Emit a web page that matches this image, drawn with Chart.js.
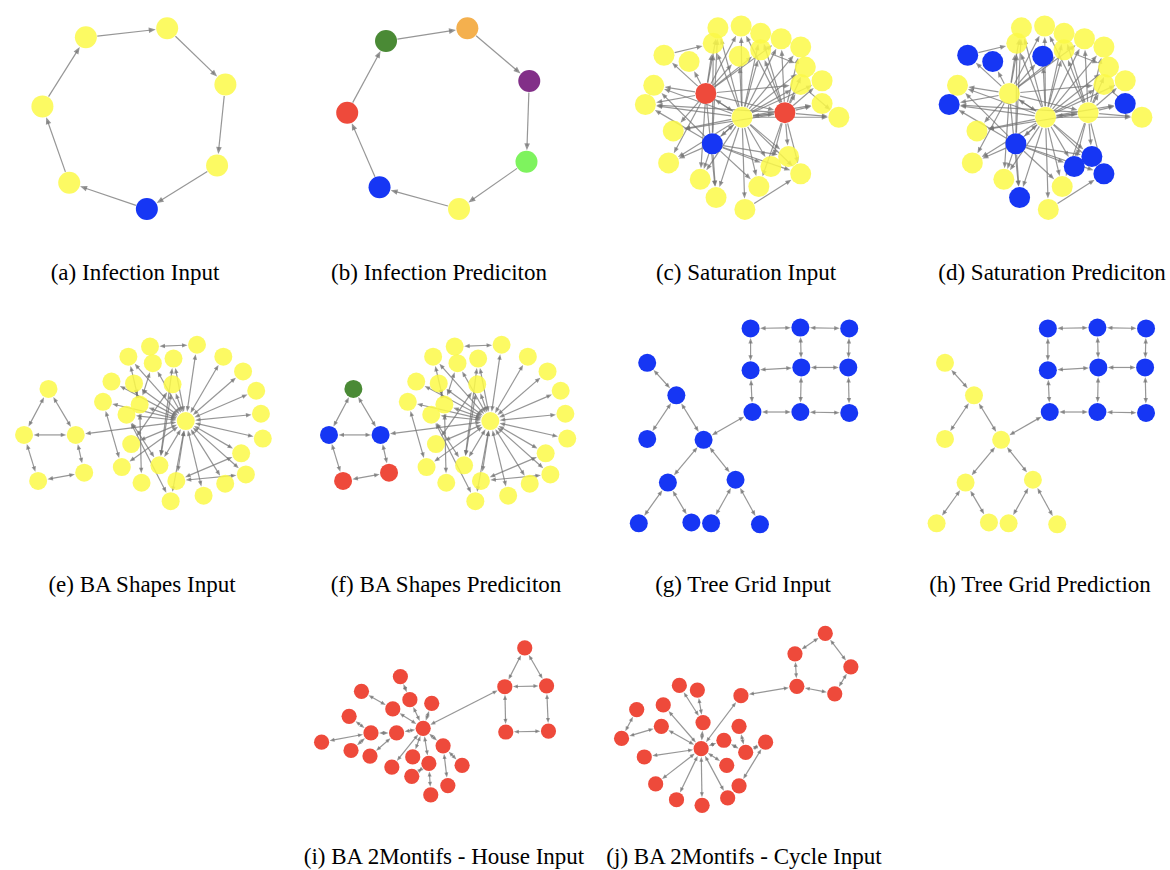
<!DOCTYPE html>
<html>
<head>
<meta charset="utf-8">
<script src="https://cdn.jsdelivr.net/npm/chart.js@4.4.1/dist/chart.umd.min.js"></script>
<style>
  html, body { margin: 0; padding: 0; background: #ffffff; }
  #fig { position: relative; width: 1170px; height: 870px; overflow: hidden; }
  #fig canvas { position: absolute; }
  .cap {
    position: absolute; white-space: nowrap; color: #000;
    font-family: 'Liberation Serif', 'Times New Roman', serif;
    font-size: 23px; line-height: 23px; transform: translateX(-50%);
  }
</style>
</head>
<body>
<div id="fig"></div>
<script>
// ---------- graph data (layout units) ----------

// Infection: directed 7-cycle
const infInX = [81, 169, 232, 223, 147, 63, 34];
const infInY = [29, 19, 81, 170, 218, 189, 105];
const infInClass = ['yellow', 'yellow', 'yellow', 'yellow', 'blue', 'yellow', 'yellow'];
const infPredX = [92, 180, 247, 244, 171, 85, 50];
const infPredY = [33, 19, 77, 166, 218, 194, 112];
const infPredClass = ['green', 'orange', 'purple', 'lime', 'yellow', 'blue', 'red'];
const infEdges = [[0, 1], [1, 2], [2, 3], [3, 4], [4, 5], [5, 6], [6, 0]];

// Saturation: directed graph around a hub (node 18)
const satX = [137, 162, 183, 205, 226, 132, 183, 160, 79, 106, 231, 249, 226, 68, 124,
              59, 249, 209, 163, 267, 89, 131, 213, 84, 194, 226, 118, 181, 135, 166];
const satY = [19, 17, 25, 31, 40, 36, 43, 50, 49, 56, 62, 77, 81, 82, 91,
              103, 102, 112, 117, 117, 132, 146, 160, 167, 171, 179, 185, 193, 205, 218];
const satInClass = satX.map((_, i) => (i === 14 || i === 17) ? 'red' : (i === 21 ? 'blue' : 'yellow'));
const satPredBlue = [7, 8, 9, 15, 16, 21, 22, 24, 25, 28];
const satPredClass = satX.map((_, i) => satPredBlue.includes(i) ? 'blue' : 'yellow');
const satEdges = [
  [18, 0], [18, 1], [18, 2], [18, 3], [18, 4], [18, 5], [18, 6], [18, 7], [18, 10], [18, 11],
  [18, 12], [18, 13], [18, 15], [18, 16], [18, 19], [18, 20], [18, 22], [18, 23], [18, 24],
  [18, 25], [18, 26], [18, 27], [18, 28], [18, 29], [18, 14], [14, 18], [18, 17], [17, 18],
  [18, 21], [21, 18],
  [14, 8], [14, 9], [14, 13], [14, 15], [14, 0], [14, 5], [14, 6], [14, 7], [14, 1], [14, 23],
  [14, 26], [14, 28], [14, 20], [14, 12], [14, 17], [14, 3],
  [17, 16], [17, 19], [17, 11], [17, 12], [17, 10], [17, 4], [17, 3], [17, 2], [17, 27],
  [17, 24], [17, 22], [17, 25], [17, 1], [17, 6], [17, 15], [17, 20],
  [21, 23], [21, 26], [21, 28], [21, 27], [21, 25], [21, 22], [21, 13], [21, 0], [21, 5],
  [21, 15], [21, 24],
  [6, 10], [8, 5], [12, 19], [29, 25]
];

// BA Shapes: house motif (0-4) attached to a BA graph with hub 5
const baX = [42, 16, 71, 31, 80, 188, 150, 200, 127, 175, 153, 228, 249, 109, 133, 174,
             263, 100, 139, 125, 268, 270, 130, 247, 120, 160, 252, 141, 178, 230, 207, 172];
const baY = [76, 126, 126, 176, 167, 111, 30, 28, 41, 43, 48, 41, 57, 68, 70, 71,
             78, 90, 93, 104, 103, 130, 136, 146, 161, 159, 169, 178, 176, 179, 192, 198];
const baInClass = baX.map(() => 'yellow');
const baPredClass = baX.map((_, i) => ['green', 'blue', 'blue', 'red', 'red'][i] || 'yellow');
const baEdges = [
  [0, 1], [0, 2], [1, 2], [1, 3], [2, 4], [3, 4], [5, 2],
  [5, 7], [5, 11], [5, 12], [5, 16], [5, 20], [5, 21], [5, 23], [5, 26], [5, 29], [5, 30],
  [5, 28], [5, 31], [5, 25], [5, 15], [5, 9], [5, 8], [5, 10], [5, 13], [5, 17], [5, 19],
  [5, 18], [5, 22], [5, 24], [5, 14],
  [6, 7], [17, 24], [18, 27], [19, 31], [19, 25], [22, 15], [25, 9], [25, 15], [28, 23],
  [28, 26], [14, 18], [10, 18], [8, 18]
];

// Tree Grid: 3x3 grid (0-8) joined to a binary tree (9-18)
const tgX = [156, 209, 261, 156, 210, 260, 158, 209, 261, 46, 77, 46, 106, 68, 140, 37, 93, 114, 166];
const tgY = [21, 20, 21, 66, 63, 63, 111, 111, 112, 58, 93, 140, 141, 187, 184, 231, 230, 231, 232];
const tgInClass = tgX.map(() => 'blue');
const tgPredClass = tgX.map((_, i) => i < 9 ? 'blue' : 'yellow');
const tgEdges = [
  [0, 1], [1, 2], [0, 3], [1, 4], [2, 5], [3, 4], [4, 5], [3, 6], [4, 7], [5, 8], [6, 7], [7, 8],
  [9, 10], [10, 11], [10, 12], [12, 13], [12, 14], [13, 15], [13, 16], [14, 17], [14, 18], [12, 6]
];

// BA 2Motifs - House
const houseX = [234, 213, 257, 214, 259, 127, 103, 62, 113, 136, 95, 49, 72, 99, 20, 51, 71,
                148, 116, 94, 133, 168, 115, 153, 135];
const houseY = [22, 64, 63, 113, 112, 109, 53, 69, 78, 82, 88, 96, 114, 114, 124, 133, 139,
                128, 140, 151, 147, 149, 161, 171, 181];
const houseClass = houseX.map(() => 'red');
const houseEdges = [
  [0, 1], [0, 2], [1, 2], [1, 3], [2, 4], [3, 4], [5, 1],
  [6, 8], [8, 5], [9, 5], [7, 10], [10, 5], [11, 12], [12, 13], [13, 5], [14, 12], [15, 12],
  [16, 13], [17, 5], [18, 5], [19, 5], [20, 5], [21, 17], [23, 17], [22, 20], [24, 20]
];

// BA 2Motifs - Cycle
const cycX = [235, 203, 262, 205, 245, 104, 146, 81, 100, 36, 64, 106, 62, 144, 20, 128, 172,
              151, 44, 131, 56, 144, 78, 132, 105];
const cycY = [17, 39, 53, 74, 82, 141, 84, 73, 78, 99, 94, 113, 117, 117, 130, 132, 134,
              145, 150, 159, 179, 181, 196, 194, 202];
const cycClass = cycX.map(() => 'red');
const cycEdges = [
  [0, 1], [0, 2], [2, 4], [4, 3], [3, 1], [6, 3],
  [5, 6], [5, 11], [11, 7], [11, 8], [5, 10], [5, 12], [12, 14], [9, 14], [5, 18], [5, 20],
  [5, 22], [5, 24], [5, 23], [5, 19], [5, 15], [15, 17], [13, 17], [17, 16], [16, 21]
];

// ---------- styling ----------
const PALETTE = {
  yellow: 'rgba(252, 249, 72, 0.85)',
  blue: '#1636f4',
  red: '#ee4a3b',
  green: '#4a8a35',
  orange: '#f4b04e',
  purple: '#822f88',
  lime: '#7ef35e'
};
const EDGE_COLOR = 'rgba(115, 115, 115, 0.75)';

// Panel frames on the page and per-panel drawing parameters
const panels = [
  { x: infInX, y: infInY, cls: infInClass, edges: infEdges, both: false, box: [0, 0, 290, 240], r: 11, head: 7 },
  { x: infPredX, y: infPredY, cls: infPredClass, edges: infEdges, both: false, box: [290, 0, 290, 240], r: 11, head: 7 },
  { x: satX, y: satY, cls: satInClass, edges: satEdges, both: false, box: [580, 0, 300, 240], r: 10.5, head: 6 },
  { x: satX, y: satY, cls: satPredClass, edges: satEdges, both: false, box: [884, 0, 286, 240], r: 10.5, head: 6 },
  { x: baX, y: baY, cls: baInClass, edges: baEdges, both: true, box: [0, 310, 300, 225], r: 9, head: 5.5 },
  { x: baX, y: baY, cls: baPredClass, edges: baEdges, both: true, box: [305, 310, 290, 225], r: 9, head: 5.5 },
  { x: tgX, y: tgY, cls: tgInClass, edges: tgEdges, both: true, box: [595, 300, 298, 250], r: 9, head: 5.5 },
  { x: tgX, y: tgY, cls: tgPredClass, edges: tgEdges, both: true, box: [893, 300, 277, 250], r: 9, head: 5.5 },
  { x: houseX, y: houseY, cls: houseClass, edges: houseEdges, both: true, box: [295, 620, 300, 200], r: 7.6, head: 5 },
  { x: cycX, y: cycY, cls: cycClass, edges: cycEdges, both: true, box: [595, 610, 290, 215], r: 7.6, head: 5 }
];

const captions = [
  ['(a) Infection Input', 135, 261], ['(b) Infection Prediciton', 439, 261],
  ['(c) Saturation Input', 746, 261], ['(d) Saturation Prediciton', 1052, 261],
  ['(e) BA Shapes Input', 142, 573], ['(f) BA Shapes Prediciton', 446, 573],
  ['(g) Tree Grid Input', 743, 573], ['(h) Tree Grid Prediction', 1040, 573],
  ['(i) BA 2Montifs - House Input', 444, 845], ['(j) BA 2Montifs - Cycle Input', 744, 845]
];

// ---------- drawing ----------
function drawHead(ctx, fx, fy, tx, ty, len) {
  const a = Math.atan2(ty - fy, tx - fx);
  const half = len * 0.4;
  const bx = tx - len * Math.cos(a), by = ty - len * Math.sin(a);
  ctx.beginPath();
  ctx.moveTo(tx, ty);
  ctx.lineTo(bx + half * Math.sin(a), by - half * Math.cos(a));
  ctx.lineTo(bx - half * Math.sin(a), by + half * Math.cos(a));
  ctx.closePath();
  ctx.fill();
}

// Edges are drawn from the positions of the node elements that Chart.js laid out
function edgePlugin(p) {
  return {
    id: 'graphEdges',
    beforeDatasetsDraw(chart) {
      const pts = chart.getDatasetMeta(0).data;
      const ctx = chart.ctx;
      ctx.save();
      ctx.strokeStyle = EDGE_COLOR;
      ctx.fillStyle = EDGE_COLOR;
      ctx.lineWidth = 1.2;
      const gap = p.r + 0.5;
      p.edges.forEach(([s, t]) => {
        const A = pts[s], B = pts[t];
        const dx = B.x - A.x, dy = B.y - A.y, d = Math.hypot(dx, dy);
        const ux = dx / d, uy = dy / d;
        const sx = A.x + ux * gap, sy = A.y + uy * gap;
        const ex = B.x - ux * gap, ey = B.y - uy * gap;
        ctx.beginPath();
        ctx.moveTo(p.both ? sx + ux * p.head * 0.6 : sx, p.both ? sy + uy * p.head * 0.6 : sy);
        ctx.lineTo(ex - ux * p.head * 0.6, ey - uy * p.head * 0.6);
        ctx.stroke();
        drawHead(ctx, sx, sy, ex, ey, p.head);
        if (p.both) drawHead(ctx, ex, ey, sx, sy, p.head);
      });
      ctx.restore();
    }
  };
}

const fig = document.getElementById('fig');

panels.forEach(p => {
  const [left, top, w, h] = p.box;
  const cv = document.createElement('canvas');
  cv.width = w; cv.height = h;
  cv.style.left = left + 'px'; cv.style.top = top + 'px';
  cv.style.width = w + 'px'; cv.style.height = h + 'px';
  fig.appendChild(cv);
  new Chart(cv, {
    type: 'scatter',
    data: {
      datasets: [{
        data: p.x.map((v, i) => ({ x: v, y: p.y[i] })),
        backgroundColor: p.cls.map(c => PALETTE[c]),
        borderWidth: 0,
        pointRadius: p.r,
        pointHoverRadius: p.r,
        clip: false
      }]
    },
    options: {
      responsive: false,
      animation: false,
      devicePixelRatio: 1,
      events: [],
      layout: { padding: 0 },
      scales: {
        x: { type: 'linear', min: 0, max: w, display: false },
        y: { type: 'linear', min: 0, max: h, reverse: true, display: false }
      },
      plugins: { legend: { display: false }, tooltip: { enabled: false } }
    },
    plugins: [edgePlugin(p)]
  });
});

captions.forEach(([text, cx, top]) => {
  const d = document.createElement('div');
  d.className = 'cap';
  d.textContent = text;
  d.style.left = cx + 'px';
  d.style.top = top + 'px';
  fig.appendChild(d);
});
</script>
</body>
</html>
